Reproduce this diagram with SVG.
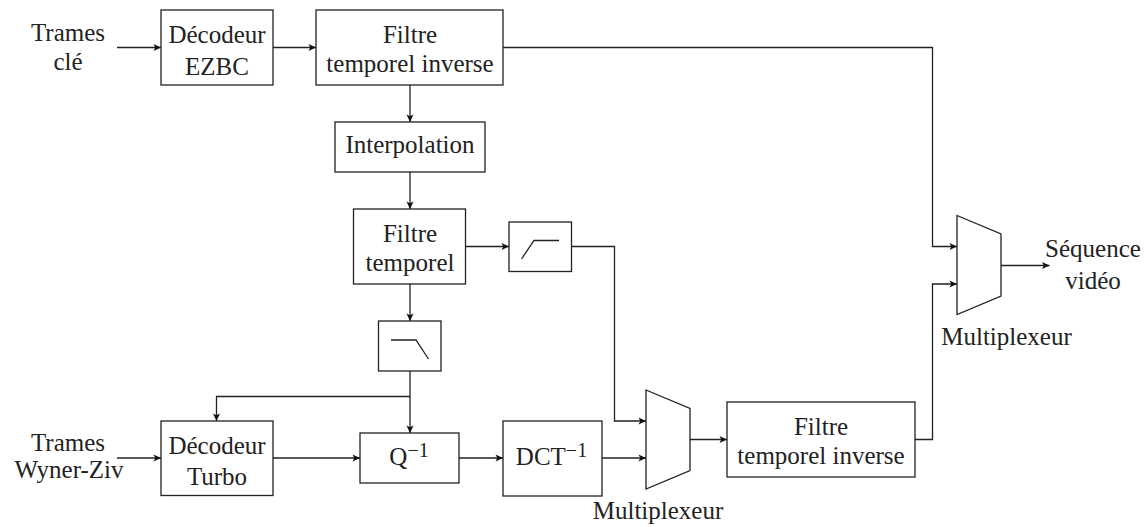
<svg xmlns="http://www.w3.org/2000/svg" width="1145" height="527" viewBox="0 0 1145 527">
<style>
.b{fill:#fff;stroke:#222;stroke-width:1.3}
.c{fill:none;stroke:#222;stroke-width:1.3}
text{font-family:"Liberation Serif","Times New Roman",serif;font-size:25px;fill:#222;text-anchor:middle}
.s{font-size:20px}
</style>
<defs>
<marker id="a" markerUnits="userSpaceOnUse" markerWidth="10" markerHeight="10" refX="7.500" refY="3.500" orient="auto" overflow="visible">
<path d="M0 0L7.500 3.500L0 7L1.800 3.500Z" fill="#111"/>
</marker>
</defs>
<g id="connectors">
<path class="c" marker-end="url(#a)" d="M117 47.500H161"/>
<path class="c" marker-end="url(#a)" d="M273 47.500H316"/>
<path class="c" marker-end="url(#a)" d="M503 47.500H932.500V246.500H957"/>
<path class="c" marker-end="url(#a)" d="M410 85V122"/>
<path class="c" marker-end="url(#a)" d="M410 172V209"/>
<path class="c" marker-end="url(#a)" d="M466 246.500H509"/>
<path class="c" marker-end="url(#a)" d="M410 284V321"/>
<path class="c" marker-end="url(#a)" d="M572 246.500H614.500V421H646"/>
<path class="c" marker-end="url(#a)" d="M410 371V433"/>
<path class="c" marker-end="url(#a)" d="M410 396.500H216.500V421"/>
<path class="c" marker-end="url(#a)" d="M117 458H161"/>
<path class="c" marker-end="url(#a)" d="M273 458H360"/>
<path class="c" marker-end="url(#a)" d="M459 458H503"/>
<path class="c" marker-end="url(#a)" d="M602 458H646"/>
<path class="c" marker-end="url(#a)" d="M690 439.500H727"/>
<path class="c" marker-end="url(#a)" d="M915 439.500H932.500V284H957"/>
<path class="c" marker-end="url(#a)" d="M1001 265.500H1049.500"/>
</g>
<g id="input-cle"><text x="68" y="41">Trames</text><text x="68" y="70">clé</text></g>
<g id="dec-ezbc"><rect class="b" x="161" y="10" width="112" height="75"/><text x="217" y="43">Décodeur</text><text x="217" y="75">EZBC</text></g>
<g id="filtre-inverse-1"><rect class="b" x="316" y="10" width="187" height="75"/><text x="410" y="43">Filtre</text><text x="410" y="72">temporel inverse</text></g>
<g id="interpolation"><rect class="b" x="335" y="122" width="150" height="50"/><text x="410" y="153">Interpolation</text></g>
<g id="filtre-temporel"><rect class="b" x="353.500" y="209" width="112" height="75"/><text x="410" y="242">Filtre</text><text x="410" y="271">temporel</text></g>
<g id="passe-haut"><rect class="b" x="509" y="222" width="62.500" height="49.500"/><path class="c" d="M521.500 259L534 240.500H559"/></g>
<g id="passe-bas"><rect class="b" x="378.500" y="321" width="62.500" height="50"/><path class="c" d="M391 340H416L428.500 359"/></g>
<g id="input-wz"><text x="68" y="451">Trames</text><text x="69" y="478">Wyner-Ziv</text></g>
<g id="dec-turbo"><rect class="b" x="161" y="421" width="112" height="74.500"/><text x="217" y="454">Décodeur</text><text x="217" y="485">Turbo</text></g>
<g id="q-inv"><rect class="b" x="360" y="433" width="99" height="50"/><text x="409" y="465">Q<tspan class="s" dy="-8.500">−1</tspan></text></g>
<g id="dct-inv"><rect class="b" x="503" y="421" width="99" height="75"/><text x="551.500" y="465">DCT<tspan class="s" dy="-8.500">−1</tspan></text></g>
<g id="mux-1"><path class="b" d="M646 390L690 408.500V470.500L646 489Z"/><text x="658" y="519">Multiplexeur</text></g>
<g id="filtre-inverse-2"><rect class="b" x="727" y="402" width="188" height="75"/><text x="821" y="435">Filtre</text><text x="821" y="464">temporel inverse</text></g>
<g id="mux-2"><path class="b" d="M957 215.500L1001 234V296L957 314.500Z"/><text x="1006.500" y="345">Multiplexeur</text></g>
<g id="output"><text x="1093" y="257">Séquence</text><text x="1093" y="289">vidéo</text></g>
</svg>
